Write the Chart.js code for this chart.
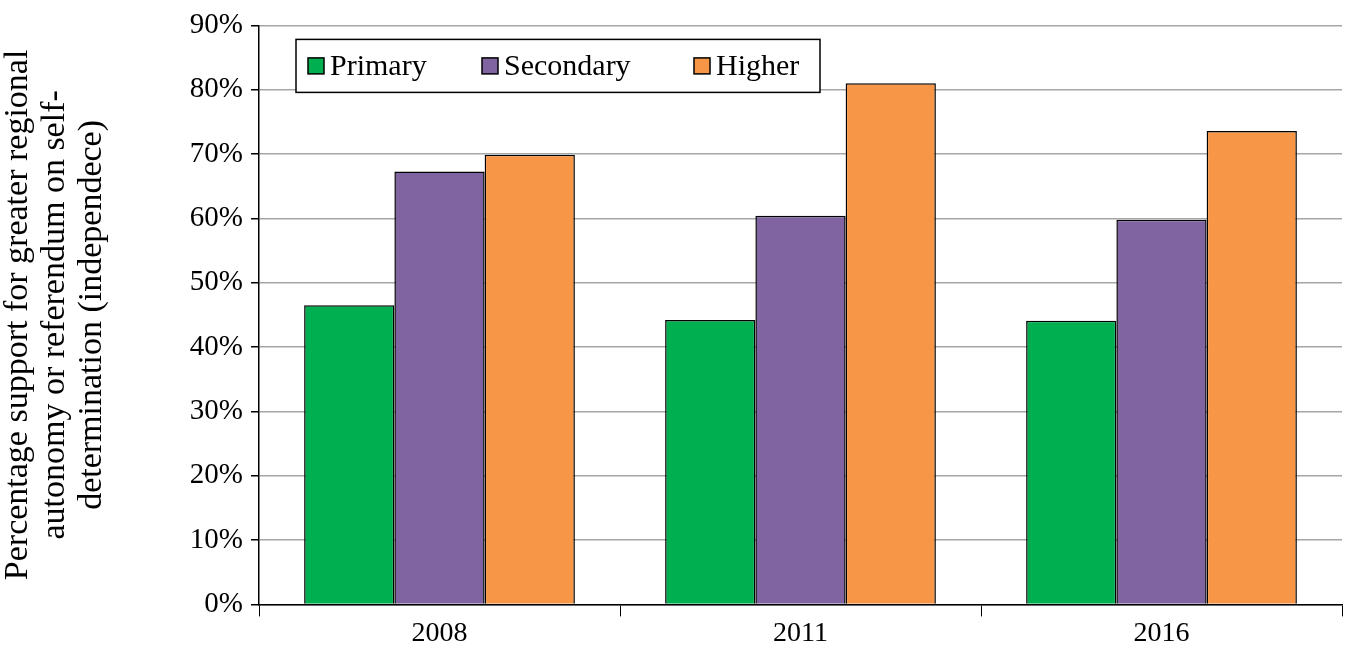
<!DOCTYPE html>
<html><head><meta charset="utf-8">
<script src="https://cdn.jsdelivr.net/npm/chart.js@4"></script>
<style>html,body{margin:0;background:#fff}#wrap{width:1346px;height:654px}</style>
</head><body><div id="wrap"><canvas id="c"></canvas></div>
<script>
const years = ['2008', '2011', '2016'];
const primary = [46.5, 44.2, 44.1];
const secondary = [67.3, 60.4, 59.8];
const higher = [69.9, 81.0, 73.6];
const yTitle = ['Percentage support for greater regional', 'autonomy or referendum on self-', 'determination (independece)'];

const serif = '"Liberation Serif", "DejaVu Serif", serif';

// legend box drawn inside the plot
const boxLegend = {
    id: 'boxLegend',
    afterDraw(chart) {
        const ctx = chart.ctx, a = chart.chartArea;
        const x = a.left + 37, y = a.top + 14, w = 524, h = 53;
        ctx.save();
        ctx.fillStyle = '#fff';
        ctx.fillRect(x, y, w, h);
        ctx.strokeStyle = '#000';
        ctx.lineWidth = 1.5;
        ctx.strokeRect(x, y, w, h);
        ctx.font = '30px ' + serif;
        ctx.textBaseline = 'middle';
        const offs = [12, 186, 398];
        chart.data.datasets.forEach((ds, i) => {
            const bx = x + offs[i];
            ctx.fillStyle = ds.backgroundColor;
            ctx.fillRect(bx, y + h / 2 - 8, 16, 16);
            ctx.strokeRect(bx, y + h / 2 - 8, 16, 16);
            ctx.fillStyle = '#000';
            ctx.fillText(ds.label, bx + 22, y + h / 2 + 1);
        });
        ctx.restore();
    }
};

new Chart(document.getElementById('c'), {
    type: 'bar',
    data: {
        labels: years,
        datasets: [
            { label: 'Primary', data: primary, backgroundColor: '#00b050' },
            { label: 'Secondary', data: secondary, backgroundColor: '#8064a2' },
            { label: 'Higher', data: higher, backgroundColor: '#f79646' }
        ].map(d => Object.assign(d, { borderColor: '#000', borderWidth: 1.5, borderSkipped: 'bottom', categoryPercentage: 0.75, barPercentage: 1 }))
    },
    options: {
        responsive: true,
        maintainAspectRatio: false,
        animation: false,
        layout: { padding: { top: -6, right: 4, bottom: 4, left: 0 } },
        plugins: { legend: { display: false }, tooltip: { enabled: false } },
        scales: {
            x: {
                grid: { offset: true, drawOnChartArea: false, color: '#000', tickLength: 12 },
                border: { color: '#000', width: 1.5 },
                ticks: { color: '#000', font: { family: serif, size: 28 }, padding: 0 }
            },
            y: {
                min: 0, max: 90,
                afterFit: s => { s.width = 259; },
                grid: { color: '#a6a6a6', lineWidth: 1.5, tickLength: 8, tickColor: '#000' },
                border: { color: '#000', width: 1.5 },
                ticks: { stepSize: 10, color: '#000', font: { family: serif, size: 29 }, padding: 8, callback: v => v + '%' },
                title: { display: true, text: yTitle, color: '#000', font: { family: serif, size: 34, lineHeight: 1.08 }, padding: { top: 0, bottom: 0 } }
            }
        }
    },
    plugins: [boxLegend]
});
</script></body></html>
